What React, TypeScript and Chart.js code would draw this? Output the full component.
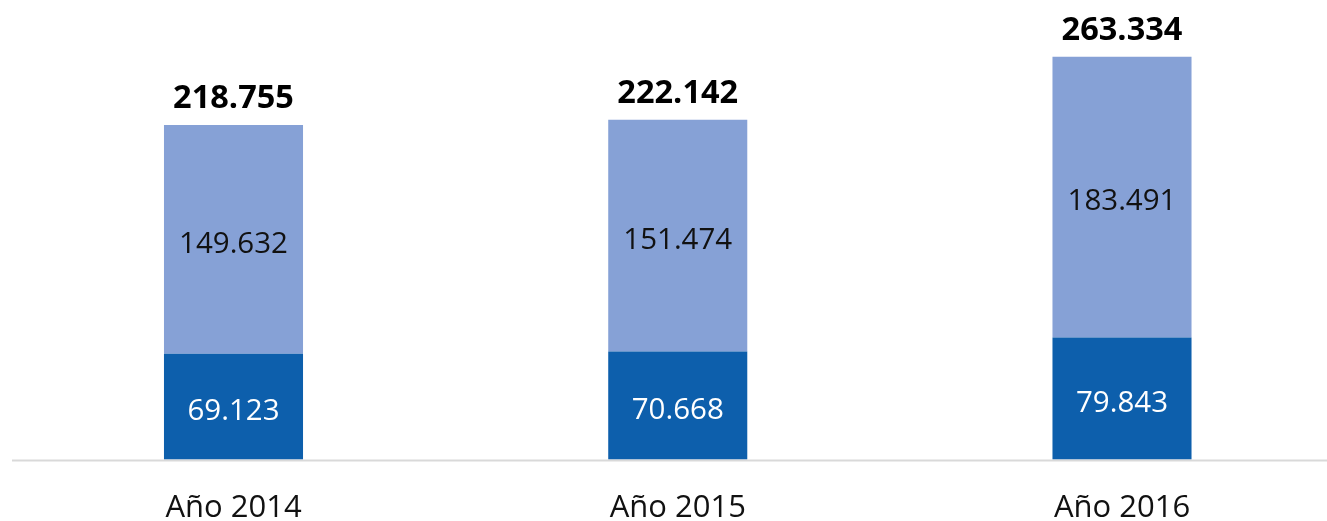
import React, { useEffect, useRef } from "react";
import { Chart, registerables } from "chart.js";

Chart.register(...registerables);

const categories = ["Año 2014", "Año 2015", "Año 2016"];
const seriesBottom = [69.123, 70.668, 79.843];
const seriesTop = [149.632, 151.474, 183.491];
const totals = [218.755, 222.142, 263.334];

const fmt = (v: number) => v.toFixed(3);
const FONT = "'Open Sans', 'Noto Sans', sans-serif";

const labelsPlugin = {
  id: "customLabels",
  afterDatasetsDraw(chart: any) {
    const ctx = chart.ctx;
    const y = chart.scales.y;
    ctx.save();
    ctx.textAlign = "center";
    ctx.textBaseline = "middle";
    chart.data.datasets.forEach((ds: any, di: number) => {
      const meta = chart.getDatasetMeta(di);
      meta.data.forEach((bar: any, i: number) => {
        const mid = (bar.y + bar.base) / 2;
        ctx.fillStyle = di === 0 ? "#ffffff" : "#111111";
        ctx.font = `29.5px ${FONT}`;
        ctx.fillText(fmt(ds.data[i]), bar.x, mid + 5);
      });
    });
    const meta0 = chart.getDatasetMeta(0);
    totals.forEach((t, i) => {
      const x = meta0.data[i].x;
      const py = y.getPixelForValue(t);
      ctx.fillStyle = "#000000";
      ctx.font = `bold 32.5px ${FONT}`;
      ctx.fillText(fmt(t), x, py - 26);
    });
    // axis line
    const area = chart.chartArea;
    ctx.strokeStyle = "#d9d9d9";
    ctx.lineWidth = 2;
    ctx.beginPath();
    ctx.moveTo(12, area.bottom + 1);
    ctx.lineTo(chart.width, area.bottom + 1);
    ctx.stroke();
    ctx.restore();
  },
};

export default function App() {
  const ref = useRef<HTMLCanvasElement>(null);
  useEffect(() => {
    if (!ref.current) return;
    const chart = new Chart(ref.current, {
      type: "bar",
      data: {
        labels: categories,
        datasets: [
          {
            label: "A",
            data: seriesBottom,
            backgroundColor: "#0d5fac",
            clip: false as any,
          },
          {
            label: "B",
            data: seriesTop,
            backgroundColor: "#86a1d6",
            clip: false as any,
          },
        ],
      },
      options: {
        responsive: false,
        animation: false,
        layout: { padding: { left: 233.5, right: 205, top: 16, bottom: 0 } },
        datasets: {
          bar: { categoryPercentage: 1, barPercentage: 0.313 },
        },
        plugins: { legend: { display: false }, tooltip: { enabled: false } },
        scales: {
          x: {
            stacked: true,
            offset: false,
            grid: { display: false, drawTicks: false },
            border: { display: false },
            ticks: {
              color: "#111111",
              font: { family: FONT, size: 31 },
              padding: 30,
              maxRotation: 0,
              autoSkip: false,
            },
            afterFit: (scale: any) => {
              scale.height = 61.5;
            },
          },
          y: {
            stacked: true,
            display: false,
            min: 0,
            max: 290,
          },
        },
      },
      plugins: [labelsPlugin],
    });
    return () => chart.destroy();
  }, []);
  return (
    <div style={{ position: "absolute", left: 0, top: 0, width: 1327, height: 521 }}>
      <canvas ref={ref} width={1327} height={521} />
    </div>
  );
}
